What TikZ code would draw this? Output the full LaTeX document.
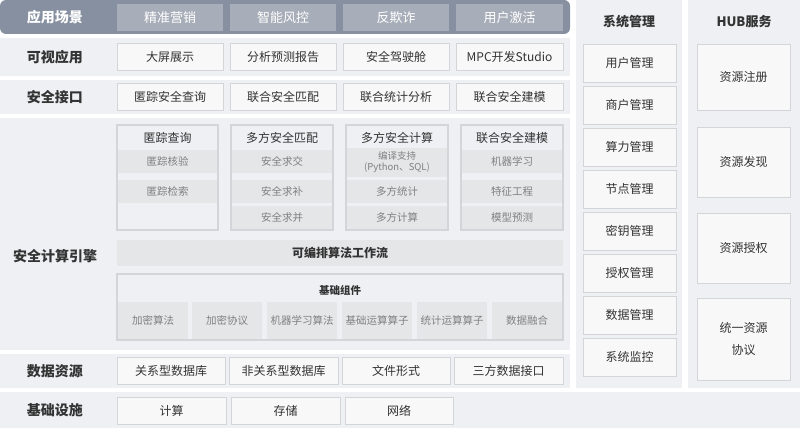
\documentclass[tikz,border=0pt]{standalone}
\usepackage{fontspec}
\setmainfont{Noto Sans CJK SC}
\definecolor{bandDark}{HTML}{8690A0}
\definecolor{itemDark}{HTML}{A8AEB9}
\definecolor{bandLight}{HTML}{EEF0F3}
\definecolor{itemLight}{HTML}{F8F8F9}
\definecolor{itemGray}{HTML}{E5E6E8}
\definecolor{lineGray}{HTML}{D3D5D9}
\definecolor{textGray}{HTML}{333333}
\tikzset{
  band/.style={fill=bandLight},
  rowlabel/.style={font=\fontsize{14}{16}\selectfont\bfseries, text=textGray},
  topitem/.style={fill=itemDark, text=white, font=\fontsize{13}{15}\selectfont},
  item/.style={fill=itemLight, draw=lineGray, text=textGray, font=\fontsize{12}{14}\selectfont},
  group/.style={fill=bandLight, draw=lineGray, line width=1.2pt},
  grptitle/.style={text=textGray, font=\fontsize{12}{14}\selectfont},
  subitem/.style={fill=itemGray, text=gray, font=\fontsize{10.5}{12}\selectfont, align=center},
}
% \cell[style]{name}{x1}{y1}{x2}{y2}{text}
\newcommand\cell[7][]{\node[inner sep=0pt,#1,minimum width={((#5)-(#3))*1pt},
  minimum height={((#6)-(#4))*1pt}] (#2) at ({((#3)+(#5))/2},{((#4)+(#6))/2}) {#7};}

\begin{document}
\begin{tikzpicture}[x=1pt,y=-1pt]
\useasboundingbox (0,0) rectangle (800,428);

% bands
\fill[bandDark, rounded corners=6pt] (0,34) -- (0,0) -- (570,0) -- (570,34) -- cycle;
\fill[band] (0,38) rectangle (570,76);
\fill[band] (0,80) rectangle (570,114);
\fill[band] (0,118) rectangle (570,350);
\fill[band] (0,354) rectangle (570,388);
\fill[band] (0,392) rectangle (800,428);
\fill[band] (576,0) rectangle (682,388);
\fill[band] (688,0) rectangle (800,388);

% row labels
\node[rowlabel, text=white] (lblScene) at (55,17) {应用场景};
\node[rowlabel] (lblVis) at (55,57) {可视应用};
\node[rowlabel] (lblApi) at (55,97) {安全接口};
\node[rowlabel] (lblEngine) at (55,256) {安全计算引擎};
\node[rowlabel] (lblData) at (55,371) {数据资源};
\node[rowlabel] (lblInfra) at (55,410) {基础设施};

% application scenes
\cell[topitem]{scene1}{117}{4}{223}{31}{精准营销}
\cell[topitem]{scene2}{230}{4}{336}{31}{智能风控}
\cell[topitem]{scene3}{343}{4}{449}{31}{反欺诈}
\cell[topitem]{scene4}{456}{4}{563}{31}{用户激活}

% visual apps
\cell[item]{vis1}{117}{43}{223}{70}{大屏展示}
\cell[item]{vis2}{230}{43}{336}{70}{分析预测报告}
\cell[item]{vis3}{343}{43}{449}{70}{安全驾驶舱}
\cell[item]{vis4}{456}{43}{563}{70}{MPC开发Studio}

% secure api
\cell[item]{api1}{117}{83}{223}{110}{匿踪安全查询}
\cell[item]{api2}{230}{83}{336}{110}{联合安全匹配}
\cell[item]{api3}{343}{83}{449}{110}{联合统计分析}
\cell[item]{api4}{456}{83}{563}{110}{联合安全建模}

% engine groups
\cell[group]{grpA}{117}{125}{218}{230}{}
\cell[group]{grpB}{231}{125}{333}{230}{}
\cell[group]{grpC}{346}{125}{448}{230}{}
\cell[group]{grpD}{461}{125}{563}{230}{}
\node[grptitle] (ttlA) at (167.5,138) {匿踪查询};
\node[grptitle] (ttlB) at (282,138) {多方安全匹配};
\node[grptitle] (ttlC) at (397,138) {多方安全计算};
\node[grptitle] (ttlD) at (512,138) {联合安全建模};
\cell[subitem]{a1}{118}{150}{217}{173}{匿踪核验}
\cell[subitem]{a2}{118}{180}{217}{203}{匿踪检索}
\cell[subitem]{b1}{232}{150}{332}{173}{安全求交}
\cell[subitem]{b2}{232}{180}{332}{203}{安全求补}
\cell[subitem]{b3}{232}{206}{332}{229}{安全求并}
\cell[subitem, font=\fontsize{9.5}{11}\selectfont]{c1}{347}{148}{447}{177}{编译支持\\(Python、SQL)}
\cell[subitem]{c2}{347}{180}{447}{203}{多方统计}
\cell[subitem]{c3}{347}{206}{447}{229}{多方计算}
\cell[subitem]{d1}{462}{150}{562}{173}{机器学习}
\cell[subitem]{d2}{462}{180}{562}{203}{特征工程}
\cell[subitem]{d3}{462}{206}{562}{229}{模型预测}

\cell[subitem, text=textGray, font=\fontsize{12}{14}\selectfont\bfseries]{flow}{117}{240}{563}{266}{可编排算法工作流}
\cell[group]{base}{117}{274}{563}{340}{}
\node[grptitle, font=\fontsize{10.5}{12}\selectfont\bfseries] (ttlBase) at (340,290) {基础组件};
\foreach \n/\xa/\t in {1/118/加密算法, 2/192/加密协议, 3/267/机器学习算法,
                       4/342/基础运算算子, 5/417/统计运算算子, 6/492/数据融合}
  {\cell[subitem]{base\n}{\xa}{302}{\xa+70}{339}{\t}}

% data resources
\cell[item]{data1}{117}{357}{225}{384}{关系型数据库}
\cell[item]{data2}{229}{357}{338}{384}{非关系型数据库}
\cell[item]{data3}{342}{357}{450}{384}{文件形式}
\cell[item]{data4}{454}{357}{563}{384}{三方数据接口}

% infrastructure
\cell[item]{infra1}{117}{397}{226}{424}{计算}
\cell[item]{infra2}{231}{397}{340}{424}{存储}
\cell[item]{infra3}{345}{397}{453}{424}{网络}

% system management
\node[rowlabel, font=\fontsize{13}{15}\selectfont\bfseries] (ttlSys) at (629,22) {系统管理};
\foreach \n/\t in {0/用户管理, 1/商户管理, 2/算力管理, 3/节点管理,
                   4/密钥管理, 5/授权管理, 6/数据管理, 7/系统监控}
  {\cell[item]{sys\n}{583}{44+42*\n}{676}{82+42*\n}{\t}}

% hub services
\node[rowlabel, font=\fontsize{13}{15}\selectfont\bfseries] (ttlHub) at (744,22) {HUB服务};
\cell[item]{hub1}{697}{44}{790}{110}{资源注册}
\cell[item]{hub2}{697}{127}{790}{197}{资源发现}
\cell[item]{hub3}{697}{213}{790}{283}{资源授权}
\cell[item, align=center, font=\fontsize{12}{22}\selectfont]{hub4}{697}{298}{790}{380}{统一资源\\协议}
\end{tikzpicture}
\end{document}
